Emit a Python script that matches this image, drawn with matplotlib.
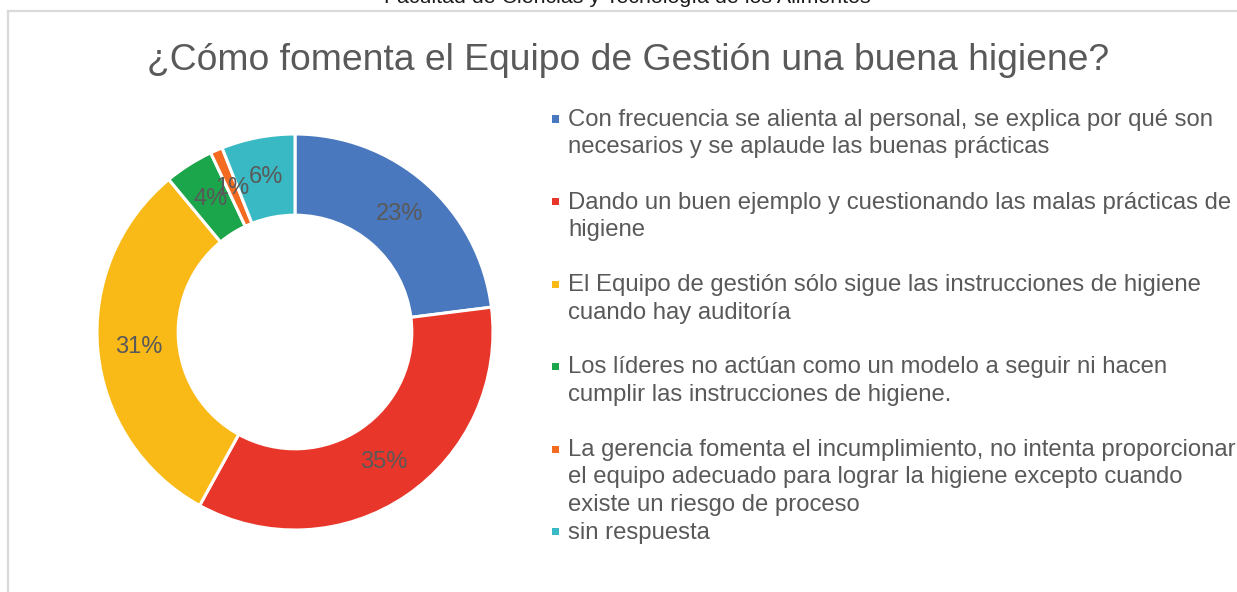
import matplotlib
matplotlib.use("Agg")
import matplotlib.pyplot as plt
from matplotlib.patches import Rectangle
from matplotlib.lines import Line2D

# ---- data ----
categories = [
    "Con frecuencia se alienta al personal, se explica por qué son\nnecesarios y se aplaude las buenas prácticas",
    "Dando un buen ejemplo y cuestionando las malas prácticas de\nhigiene",
    "El Equipo de gestión sólo sigue las instrucciones de higiene\ncuando hay auditoría",
    "Los líderes no actúan como un modelo a seguir ni hacen\ncumplir las instrucciones de higiene.",
    "La gerencia fomenta el incumplimiento, no intenta proporcionar\nel equipo adecuado para lograr la higiene excepto cuando\nexiste un riesgo de proceso",
    "sin respuesta",
]
values = [23, 35, 31, 4, 1, 6]
colors = ["#4A78BE", "#E8372A", "#F9BA18", "#1BA64B", "#F26B21", "#38B9C4"]
title = "¿Cómo fomenta el Equipo de Gestión una buena higiene?"
header = "Facultad de Ciencias y Tecnología de los Alimentos"

W, H = 1237, 592
fig = plt.figure(figsize=(W / 100, H / 100), dpi=100)
fig.patch.set_facecolor("white")
FONT = "Liberation Sans"
TXT = "#595959"

def fx(x):
    return x / W

def fy(y):  # y measured from top in pixels
    return 1 - y / H

renderer = fig.canvas.get_renderer()

def fit(t, target_px):
    fs = t.get_fontsize()
    w = t.get_window_extent(renderer=renderer).width
    t.set_fontsize(fs * target_px / w)

# border of chart area
fig.add_artist(Line2D([fx(8), fx(8)], [fy(11), fy(600)], color="#D9D9D9", lw=1.6, transform=fig.transFigure))
fig.add_artist(Line2D([fx(8), fx(1240)], [fy(11), fy(11)], color="#D9D9D9", lw=1.6, transform=fig.transFigure))

# header (cut off at top)
th = fig.text(fx(627), fy(3), header, ha="center", va="baseline", fontsize=12,
              family=FONT, color="#1a1a1a")
fit(th, 489)

# title
tt = fig.text(fx(628), fy(70), title, ha="center", va="baseline", fontsize=28,
              family=FONT, color=TXT)
fit(tt, 960)

# donut
cx, cy, R = 295, 332, 198
ax = fig.add_axes([fx(cx - R), fy(cy + R), 2 * R / W, 2 * R / H])
ax.pie(values, colors=colors, startangle=90, counterclock=False, radius=1.0,
       autopct="%1.0f%%", pctdistance=0.795,
       wedgeprops=dict(width=0.41, edgecolor="white", linewidth=2.2),
       textprops=dict(color=TXT, fontsize=17, family=FONT))
ax.set_xlim(-1, 1)
ax.set_ylim(-1, 1)
ax.set_aspect("equal")
ax.axis("off")

# legend (manual, to match layout)
k = 0
first_fs = None
for i, (lab, col) in enumerate(zip(categories, colors)):
    lines = lab.split("\n")
    y0 = 119 + 27.5 * k
    fig.add_artist(Rectangle((fx(552), fy(y0 + 3.5)), 7 / W, 7 / H, color=col,
                             transform=fig.transFigure, lw=0))
    for j, ln in enumerate(lines):
        yc = 119 + 27.5 * (k + j)
        t = fig.text(fx(568), fy(yc + 7), ln, ha="left", va="baseline",
                     fontsize=17, family=FONT, color=TXT)
        if first_fs is None:
            fit(t, 646)
            first_fs = t.get_fontsize()
        else:
            t.set_fontsize(first_fs)
    k += len(lines)
    if i < 4:
        k += 1

fig.savefig("out.png", dpi=100, facecolor="white")
